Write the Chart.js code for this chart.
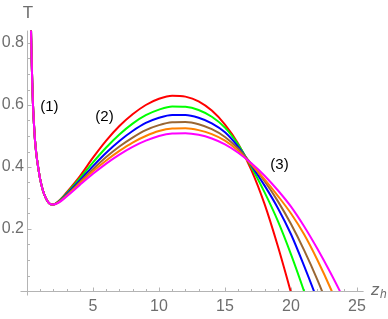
<!DOCTYPE html>
<html>
<head>
<meta charset="utf-8">
<script src="https://cdn.jsdelivr.net/npm/chart.js@4.4.1/dist/chart.umd.min.js"></script>
<style>
  html, body { margin: 0; padding: 0; background: #fff; }
</style>
</head>
<body>
<canvas id="grafico" width="388" height="319"></canvas>
<script>
// shared left branch (all curves coincide here)
const zLeft = [0.3, 0.35, 0.4, 0.45, 0.5, 0.6, 0.7, 0.85, 1.0, 1.2, 1.4, 1.6, 1.8, 2.0];
const tLeft = [0.85, 0.75, 0.67, 0.605, 0.56, 0.49, 0.445, 0.398, 0.36, 0.325, 0.302, 0.287, 0.28, 0.279];

// main branch
const zMain = [2.4, 3, 4, 5, 6, 7, 8, 9, 10, 11, 12, 13, 14, 15, 16, 17, 18, 19, 20, 21, 22, 23, 24];
const tRed     = [0.290, 0.318, 0.370, 0.430, 0.485, 0.532, 0.570, 0.600, 0.620, 0.630, 0.627, 0.612, 0.582, 0.537, 0.475, 0.390, 0.280, 0.145, -0.005, -0.160, -0.32, -0.48, -0.64];
const tGreen   = [0.289, 0.315, 0.363, 0.415, 0.463, 0.505, 0.540, 0.567, 0.585, 0.595, 0.594, 0.584, 0.562, 0.527, 0.472, 0.400, 0.318, 0.226, 0.118, -0.002, -0.13, -0.27, -0.41];
const tBlue    = [0.288, 0.312, 0.357, 0.403, 0.446, 0.484, 0.516, 0.542, 0.559, 0.568, 0.568, 0.559, 0.541, 0.512, 0.465, 0.405, 0.340, 0.268, 0.183, 0.080, -0.030, -0.15, -0.27];
const tBrown   = [0.287, 0.309, 0.351, 0.393, 0.432, 0.466, 0.495, 0.519, 0.535, 0.544, 0.545, 0.538, 0.522, 0.497, 0.459, 0.410, 0.354, 0.290, 0.216, 0.131, 0.036, -0.070, -0.18];
const tOrange  = [0.286, 0.307, 0.347, 0.386, 0.421, 0.452, 0.479, 0.500, 0.516, 0.524, 0.525, 0.519, 0.506, 0.485, 0.452, 0.408, 0.360, 0.307, 0.250, 0.182, 0.100, 0.008, -0.095];
const tMagenta = [0.285, 0.305, 0.342, 0.378, 0.411, 0.440, 0.465, 0.485, 0.500, 0.508, 0.509, 0.504, 0.492, 0.473, 0.446, 0.412, 0.372, 0.325, 0.272, 0.208, 0.136, 0.058, -0.025];

const xTicks = [5, 10, 15, 20, 25];
const yTicks = [0.2, 0.4, 0.6, 0.8];

const series = [
  { t: tRed, cor: "#ff0000" },
  { t: tGreen, cor: "#00ff00" },
  { t: tBlue, cor: "#0000ff" },
  { t: tBrown, cor: "#996633" },
  { t: tOrange, cor: "#ff8000" },
  { t: tMagenta, cor: "#ff00ff" }
];

const pontos = (t) =>
  zLeft.map((z, i) => ({ x: z, y: tLeft[i] }))
    .concat(zMain.map((z, i) => ({ x: z, y: t[i] })));

const datasets = series.map((s, i) => ({
  data: pontos(s.t),
  borderColor: s.cor,
  borderWidth: 2,
  pointRadius: 0,
  cubicInterpolationMode: "monotone",
  fill: false,
  order: series.length - i
}));

// axes, ticks and text labels in Mathematica style
const eixos = {
  id: "eixos",
  beforeDatasetsDraw(chart) {
    const { ctx, scales: { x, y } } = chart;
    const x0 = Math.round(x.getPixelForValue(0)) + 0.5;
    const y0 = Math.round(y.getPixelForValue(0)) + 0.5;
    ctx.save();
    ctx.strokeStyle = "#b4b4b4";
    ctx.lineWidth = 1;
    ctx.beginPath();
    ctx.moveTo(x0 - 7, y0);
    ctx.lineTo(x.right, y0);
    ctx.moveTo(x0, y.top);
    ctx.lineTo(x0, y0 + 4);
    for (let i = 1; i <= 25; i++) {
      const px = Math.round(x.getPixelForValue(i)) + 0.5;
      const len = i % 5 === 0 ? 4 : 2.5;
      ctx.moveTo(px, y0);
      ctx.lineTo(px, y0 - len);
    }
    for (let j = 1; j <= 16; j++) {
      const py = Math.round(y.getPixelForValue(j * 0.05)) + 0.5;
      const len = j % 4 === 0 ? 4 : 2.5;
      ctx.moveTo(x0, py);
      ctx.lineTo(x0 + len, py);
    }
    ctx.stroke();
    ctx.restore();
  },
  afterDraw(chart) {
    const { ctx, scales: { x, y } } = chart;
    ctx.save();
    ctx.fillStyle = "#6e6e6e";
    ctx.textBaseline = "alphabetic";
    ctx.textAlign = "center";
    ctx.font = "17px 'Liberation Sans'";
    ctx.fillText("T", x.getPixelForValue(0) + 1, 18);
    ctx.textAlign = "left";
    ctx.font = "italic 17px 'Liberation Sans'";
    ctx.fillText("z", 371, 295);
    ctx.font = "italic 12px 'Liberation Sans'";
    ctx.fillText("h", 380, 298);
    ctx.fillStyle = "#000";
    ctx.textAlign = "center";
    ctx.textBaseline = "middle";
    ctx.font = "15px 'Liberation Sans'";
    ctx.fillText("(1)", x.getPixelForValue(1.7), y.getPixelForValue(0.595));
    ctx.fillText("(2)", x.getPixelForValue(5.87), y.getPixelForValue(0.563));
    ctx.fillText("(3)", x.getPixelForValue(19.13), y.getPixelForValue(0.408));
    ctx.restore();
  }
};

new Chart(document.getElementById("grafico"), {
  type: "line",
  data: { datasets },
  options: {
    responsive: false,
    animation: false,
    layout: { padding: { top: 30.6, right: 24.4, left: 0, bottom: 0 } },
    plugins: { legend: { display: false }, tooltip: { enabled: false } },
    scales: {
      x: {
        type: "linear",
        min: 0,
        max: 25.5,
        grid: { display: false, drawTicks: false },
        border: { display: false },
        afterBuildTicks: (s) => { s.ticks = xTicks.map(v => ({ value: v })); },
        afterFit: (s) => { s.height = 28; },
        ticks: {
          padding: 6,
          maxRotation: 0,
          color: "#6e6e6e",
          font: { family: "'Liberation Sans'", size: 16 }
        }
      },
      y: {
        min: 0,
        max: 0.84,
        grid: { display: false, drawTicks: false },
        border: { display: false },
        afterBuildTicks: (s) => { s.ticks = yTicks.map(v => ({ value: v })); },
        afterFit: (s) => { s.width = 27; },
        ticks: {
          padding: 3,
          color: "#6e6e6e",
          font: { family: "'Liberation Sans'", size: 16 },
          callback: (v) => v.toFixed(1)
        }
      }
    }
  },
  plugins: [eixos]
});
</script>
</body>
</html>
